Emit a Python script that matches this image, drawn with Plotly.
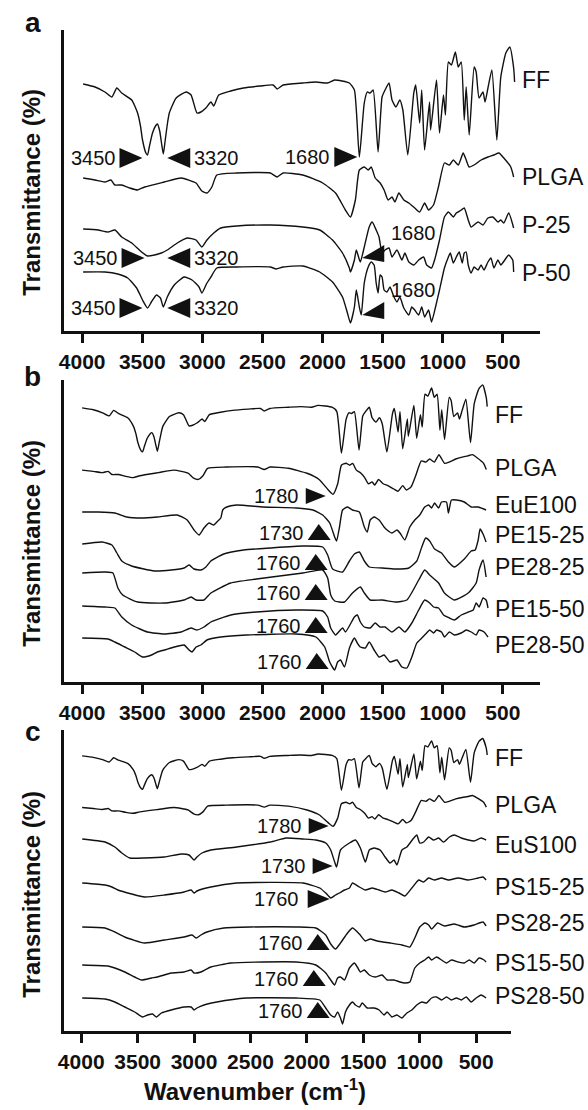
import plotly.graph_objects as go

# ---------------- data ----------------
TICK_WN = [4000, 3500, 3000, 2500, 2000, 1500, 1000, 500]

FF_WN = [3992, 3893, 3811, 3753, 3712, 3671, 3588, 3539, 3515, 3498, 3470, 3456, 3440, 3415, 3390, 3374, 3355, 3340, 3325, 3310,
         3290, 3275, 3218, 3135, 3094, 3045, 3012, 2971, 2929, 2905, 2864, 2765, 2658, 2518, 2411, 2378, 2328, 2164, 2057, 1958,
         1900, 1777, 1735, 1694, 1653, 1628, 1604, 1579, 1538, 1505, 1480, 1447, 1422, 1389, 1357, 1332, 1291, 1241, 1225, 1192,
         1175, 1151, 1110, 1101, 1052, 1027, 994, 978, 953, 928, 895, 871, 846, 821, 805, 780, 739, 722, 698, 665,
         648, 624, 591, 550, 517, 475, 442, 410, 402]
FF_T = [247, 244, 239, 234, 243, 238, 231, 218, 205, 191, 178, 176, 185, 198, 205, 207, 200, 188, 177, 190,
        208, 218, 233, 239, 236, 218, 219, 223, 229, 225, 236, 240, 243, 245, 246, 242, 246, 248, 249, 248,
        251, 248, 241, 174, 228, 239, 238, 241, 179, 234, 241, 248, 231, 224, 231, 221, 176, 238, 246, 208,
        241, 181, 229, 201, 251, 198, 236, 216, 269, 266, 279, 264, 269, 211, 244, 196, 264, 259, 233, 239,
        229, 243, 261, 191, 254, 278, 284, 263, 249]

PLGA_WN = [3992, 3893, 3811, 3761, 3728, 3671, 3605, 3539, 3481, 3317, 3177, 3053, 3004, 2962, 2921, 2880, 2715, 2435, 2378, 2328,
           2164, 1999, 1892, 1810, 1768, 1727, 1694, 1653, 1620, 1595, 1562, 1521, 1488, 1455, 1422, 1398, 1365, 1324, 1282, 1233,
           1192, 1151, 1118, 1077, 1036, 986, 945, 912, 871, 830, 805, 780, 739, 681, 624, 574, 533, 492, 434, 410]
PLGA_T = [153, 151, 149, 151, 146, 146, 143, 141, 144, 149, 153, 148, 140, 138, 144, 156, 158, 158, 154, 158,
          156, 148, 138, 121, 114, 131, 161, 164, 161, 164, 153, 148, 141, 131, 134, 129, 138, 131, 128, 123,
          119, 128, 121, 126, 144, 168, 166, 171, 166, 178, 171, 164, 166, 171, 174, 176, 178, 173, 164, 154]

P25_WN = [3992, 3868, 3786, 3728, 3671, 3588, 3506, 3456, 3399, 3341, 3292, 3209, 3127, 3053, 3004, 2962, 2905, 2847, 2715, 2435,
          2164, 2024, 1917, 1834, 1777, 1768, 1735, 1719, 1686, 1653, 1612, 1587, 1554, 1530, 1505, 1480, 1447, 1422, 1381, 1340,
          1315, 1282, 1241, 1200, 1159, 1134, 1093, 1068, 1027, 986, 953, 912, 887, 846, 821, 788, 764, 706, 665, 624,
          583, 541, 517, 492, 451, 410]
P25_T = [102, 101, 99, 101, 94, 88, 79, 75, 76, 78, 81, 88, 93, 91, 84, 91, 98, 103, 105, 106,
         104, 101, 91, 78, 63, 59, 71, 81, 69, 84, 104, 109, 101, 94, 78, 81, 83, 74, 81, 71,
         78, 69, 66, 71, 74, 66, 63, 71, 91, 114, 119, 114, 118, 121, 123, 111, 104, 109, 106, 113,
         114, 109, 111, 108, 118, 103]

P50_WN = [3992, 3811, 3704, 3621, 3547, 3498, 3456, 3424, 3382, 3349, 3325, 3292, 3234, 3152, 3086, 3028, 3004, 2962, 2929, 2880,
          2715, 2435, 2386, 2328, 2164, 2024, 1917, 1834, 1793, 1768, 1735, 1719, 1694, 1678, 1653, 1620, 1595, 1571, 1554, 1538,
          1521, 1505, 1488, 1464, 1439, 1406, 1381, 1357, 1324, 1282, 1258, 1233, 1200, 1175, 1151, 1118, 1093, 1060, 1027, 986,
          953, 937, 912, 887, 863, 838, 821, 805, 788, 764, 739, 706, 681, 657, 624, 599, 574, 541, 517, 484,
          451, 418, 410]
P50_T = [59, 59, 57, 53, 43, 31, 23, 29, 36, 33, 24, 34, 46, 54, 51, 44, 38, 48, 54, 63,
         64, 64, 62, 64, 65, 59, 49, 34, 18, 8, 24, 41, 24, 16, 48, 64, 69, 66, 48, 38,
         56, 54, 41, 39, 44, 34, 29, 34, 23, 16, 24, 21, 16, 24, 14, 21, 9, 24, 41, 63,
         74, 78, 68, 74, 79, 68, 78, 79, 66, 58, 64, 61, 66, 61, 69, 73, 63, 71, 66, 71,
         76, 71, 59]

EUE_WN = [3991, 3851, 3702, 3596, 3465, 3325, 3149, 3061, 3000, 2956, 2912, 2868, 2825, 2798, 2763, 2746, 2711, 2623, 2386, 2096,
          1947, 1860, 1798, 1754, 1737, 1711, 1684, 1640, 1596, 1535, 1491, 1465, 1439, 1404, 1360, 1316, 1289, 1246, 1202, 1175,
          1132, 1088, 1044, 1000, 956, 921, 895, 868, 833, 807, 763, 746, 719, 675, 605, 544, 482, 412]
EUE_T = [170, 170, 169, 165, 164, 165, 167, 162, 152, 147, 154, 159, 157, 160, 164, 172, 175, 177, 175, 174,
         172, 167, 159, 145, 141, 155, 172, 175, 172, 170, 155, 150, 162, 165, 162, 155, 152, 149, 152, 149,
         142, 155, 162, 167, 175, 177, 174, 179, 174, 180, 180, 169, 182, 182, 180, 175, 175, 172]

PE1525_WN = [3991, 3816, 3728, 3684, 3640, 3553, 3351, 3202, 3088, 3044, 3000, 2939, 2895, 2851, 2737, 2561, 2325, 2035, 1860, 1816,
             1772, 1684, 1623, 1579, 1535, 1491, 1447, 1333, 1219, 1096, 1026, 982, 947, 912, 868, 807, 746, 693, 605, 544,
             509, 482, 465, 439, 412]
PE1525_T = [138, 140, 137, 129, 121, 116, 111, 112, 114, 117, 113, 112, 115, 121, 128, 132, 134, 136, 135, 127,
            113, 110, 121, 128, 130, 121, 115, 114, 113, 114, 121, 135, 144, 141, 133, 129, 120, 115, 123, 131,
            132, 142, 153, 148, 140]

PE2825_WN = [3991, 3789, 3719, 3675, 3632, 3500, 3263, 3088, 3026, 2982, 2912, 2851, 2675, 2447, 2035, 1860, 1816, 1789, 1754, 1667,
             1596, 1526, 1491, 1439, 1333, 1219, 1114, 1009, 956, 912, 833, 781, 693, 570, 500, 474, 439, 412]
PE2825_T = [109, 110, 109, 94, 87, 80, 79, 82, 85, 82, 82, 89, 99, 103, 109, 112, 104, 87, 81, 80,
            89, 95, 89, 82, 82, 80, 82, 102, 112, 107, 99, 89, 82, 89, 99, 112, 122, 105]

PE1550_WN = [3991, 3789, 3702, 3640, 3553, 3412, 3263, 3114, 3026, 2974, 2912, 2851, 2675, 2447, 2096, 1860, 1816, 1789, 1746, 1684,
             1658, 1579, 1553, 1526, 1491, 1439, 1395, 1351, 1307, 1246, 1184, 1132, 1070, 1009, 956, 912, 877, 833, 789, 737,
             693, 632, 570, 526, 500, 474, 439, 412, 395]
PE1550_T = [76, 75, 74, 65, 57, 50, 48, 50, 54, 52, 55, 60, 67, 70, 72, 71, 65, 54, 47, 54,
            50, 65, 67, 60, 55, 54, 59, 55, 55, 50, 55, 50, 59, 72, 82, 79, 75, 74, 67, 64,
            62, 67, 70, 72, 79, 75, 84, 82, 74]

PE2850_WN = [3991, 3763, 3702, 3614, 3526, 3456, 3377, 3325, 3263, 3175, 3088, 3044, 3018, 2982, 2939, 2886, 2763, 2535, 2096, 1921,
             1842, 1798, 1754, 1728, 1702, 1667, 1623, 1579, 1553, 1526, 1482, 1447, 1404, 1360, 1316, 1263, 1202, 1158, 1114, 1070,
             1026, 982, 939, 912, 877, 851, 807, 781, 737, 693, 632, 588, 544, 500, 474, 430, 395]
PE2850_T = [44, 43, 40, 35, 30, 25, 27, 30, 32, 35, 37, 32, 30, 35, 37, 42, 45, 47, 48, 45,
            35, 20, 12, 20, 22, 15, 34, 44, 39, 35, 34, 40, 32, 25, 27, 20, 22, 15, 14, 25,
            39, 44, 49, 52, 49, 52, 50, 45, 50, 47, 49, 52, 50, 47, 52, 50, 45]

EUS_WN = [3991, 3789, 3702, 3640, 3570, 3439, 3263, 3114, 3044, 3000, 2974, 2930, 2851, 2623, 2325, 2184, 2035, 1921, 1833, 1789,
          1754, 1737, 1702, 1623, 1570, 1526, 1482, 1447, 1404, 1351, 1307, 1263, 1228, 1202, 1158, 1114, 1053, 1026, 1000, 965,
          921, 877, 833, 789, 737, 693, 632, 570, 518, 456, 412]
EUS_T = [192, 189, 184, 178, 173, 173, 174, 177, 176, 171, 174, 178, 181, 184, 189, 193, 192, 191, 188, 181,
         169, 164, 181, 188, 191, 183, 169, 181, 183, 181, 174, 168, 171, 166, 181, 184, 193, 196, 188, 189,
         194, 191, 193, 189, 194, 196, 193, 191, 190, 193, 191]

PS1525_WN = [3991, 3789, 3728, 3675, 3553, 3439, 3263, 3088, 3026, 3000, 2974, 2851, 2623, 2035, 1886, 1833, 1789, 1746, 1711, 1667,
             1623, 1596, 1535, 1482, 1421, 1360, 1307, 1246, 1184, 1132, 1070, 1009, 965, 921, 868, 807, 746, 658, 570, 482,
             439, 412]
PS1525_T = [148, 146, 144, 141, 137, 134, 136, 139, 141, 138, 140, 144, 148, 148, 143, 138, 133, 136, 138, 141,
            143, 148, 144, 141, 143, 141, 139, 141, 138, 135, 143, 151, 149, 153, 151, 153, 151, 153, 151, 153,
            154, 151]

PS2825_WN = [3991, 3789, 3702, 3614, 3439, 3263, 3088, 3018, 2982, 2939, 2886, 2737, 2500, 2096, 1921, 1833, 1789, 1746, 1702, 1640,
             1596, 1535, 1482, 1439, 1377, 1263, 1158, 1088, 1044, 1000, 956, 921, 895, 842, 781, 693, 605, 518, 439, 412]
PS2825_T = [104, 103, 99, 94, 88, 91, 94, 96, 93, 96, 99, 103, 104, 104, 103, 96, 87, 82, 88, 98,
            103, 97, 90, 92, 90, 88, 86, 84, 93, 104, 108, 106, 102, 108, 105, 107, 104, 106, 109, 105]

PS1550_WN = [3991, 3763, 3702, 3614, 3526, 3465, 3377, 3325, 3202, 3088, 3026, 3000, 2939, 2851, 2675, 2386, 2096, 1921, 1833, 1789,
             1754, 1728, 1702, 1667, 1623, 1579, 1553, 1526, 1491, 1447, 1395, 1333, 1289, 1228, 1175, 1132, 1088, 1044, 1000, 956,
             921, 895, 851, 807, 763, 719, 658, 605, 561, 518, 474, 430, 412]
PS1550_T = [66, 65, 63, 59, 54, 51, 53, 54, 58, 59, 61, 58, 59, 64, 68, 69, 69, 66, 58, 51,
            46, 53, 54, 51, 63, 68, 64, 59, 61, 56, 54, 56, 51, 51, 49, 48, 49, 63, 68, 71,
            74, 71, 74, 71, 68, 71, 69, 68, 71, 68, 73, 71, 69]

PS2850_WN = [3991, 3789, 3702, 3614, 3526, 3456, 3412, 3368, 3333, 3289, 3202, 3088, 3026, 3000, 2974, 2912, 2798, 2535, 2096, 1886,
             1833, 1789, 1754, 1728, 1702, 1684, 1658, 1623, 1596, 1570, 1535, 1509, 1465, 1404, 1360, 1316, 1289, 1246, 1202, 1158,
             1114, 1070, 1026, 982, 939, 895, 851, 807, 763, 719, 675, 632, 588, 544, 500, 456, 412]
PS2850_T = [33, 32, 29, 24, 19, 14, 16, 17, 14, 18, 21, 24, 24, 21, 23, 26, 29, 33, 33, 31,
            23, 16, 14, 19, 13, 7, 19, 26, 29, 26, 24, 28, 23, 23, 21, 16, 19, 14, 16, 13,
            18, 21, 26, 29, 28, 33, 34, 31, 34, 31, 33, 31, 34, 29, 33, 36, 33]

SPECTRA = {
    "FF": (FF_WN, FF_T), "PLGA": (PLGA_WN, PLGA_T), "P-25": (P25_WN, P25_T), "P-50": (P50_WN, P50_T),
    "EuE100": (EUE_WN, EUE_T), "PE15-25": (PE1525_WN, PE1525_T), "PE28-25": (PE2825_WN, PE2825_T),
    "PE15-50": (PE1550_WN, PE1550_T), "PE28-50": (PE2850_WN, PE2850_T),
    "EuS100": (EUS_WN, EUS_T), "PS15-25": (PS1525_WN, PS1525_T), "PS28-25": (PS2825_WN, PS2825_T),
    "PS15-50": (PS1550_WN, PS1550_T), "PS28-50": (PS2850_WN, PS2850_T),
}
for _k, (_w, _t) in SPECTRA.items():
    assert len(_w) == len(_t), (_k, len(_w), len(_t))

A_SERIES = ["FF", "PLGA", "P-25", "P-50"]
B_SERIES = ["FF", "PLGA", "EuE100", "PE15-25", "PE28-25", "PE15-50", "PE28-50"]
C_SERIES = ["FF", "PLGA", "EuS100", "PS15-25", "PS28-25", "PS15-50", "PS28-50"]

# FF and PLGA are re-plotted in panels b and c with a smaller vertical scale and their own offset
B_SCALE = {"FF": (0.62, 121), "PLGA": (0.62, 117)}
C_SCALE = {"FF": (0.47, 159), "PLGA": (0.48, 150)}

A_LABEL_LEVEL = [251, 154, 106, 58]
B_LABEL_LEVEL = [267, 214, 177, 147, 115, 73, 37]
C_LABEL_LEVEL = [273, 226, 186, 144, 108, 68, 35]

A_ARW_TEXT = ["3450", "3320", "1680", "3450", "3320", "1680", "3450", "3320", "1680"]
A_ARW_WN = [3498, 3292, 1711, 3481, 3292, 1670, 3498, 3292, 1670]
A_ARW_LEVEL = [173, 173, 174, 73, 73, 73, 23, 23, 16]
A_ARW_KIND = ["R", "L", "R", "R", "L", "T", "R", "L", "T"]

B_ARW_TEXT = ["1780", "1730", "1760", "1760", "1760", "1760"]
B_ARW_WN = [1833, 1789, 1816, 1816, 1816, 1807]
B_ARW_LEVEL = [186, 142, 112, 82, 49, 13]
B_ARW_KIND = ["r", "U", "U", "U", "U", "U"]

C_ARW_TEXT = ["1780", "1730", "1760", "1760", "1760", "1760"]
C_ARW_WN = [1807, 1772, 1798, 1798, 1833, 1798]
C_ARW_LEVEL = [205, 165, 132, 81, 45, 13]
C_ARW_KIND = ["r", "r", "r2", "U", "U", "U"]

# ---------------- styling ----------------
W, H = 588, 1110
FONT = "Liberation Sans, Arial, Helvetica, sans-serif"
INK = "#111111"


def px_x(p):
    return p / W


def px_y(p):
    return 1 - p / H


KIND = {
    "R": dict(path="M-23,10 L-23,-10 L0,0 Z", anchor="right", dx=-25, dy=0),
    "L": dict(path="M23,10 L23,-10 L0,0 Z", anchor="left", dx=25, dy=0),
    "T": dict(path="M0,0 L22,13 L22,-4 Z", anchor="left", dx=27, dy=25),
    "r": dict(path="M-20,8 L-20,-8 L0,0 Z", anchor="right", dx=-25, dy=0),
    "r2": dict(path="M-22,9 L-22,-9 L0,0 Z", anchor="right", dx=-29, dy=0),
    "U": dict(path="M0,0 L-23,0 L-12,16 Z", anchor="right", dx=-25, dy=7),
}

fig = go.Figure()
shapes = []
annotations = []

panels = [
    # series, scale map, label levels, arrows, data x-axis, y-axis, label xshift
    (A_SERIES, {}, A_LABEL_LEVEL, (A_ARW_TEXT, A_ARW_WN, A_ARW_LEVEL, A_ARW_KIND), "x", "y", 5),
    (B_SERIES, B_SCALE, B_LABEL_LEVEL, (B_ARW_TEXT, B_ARW_WN, B_ARW_LEVEL, B_ARW_KIND), "x4", "y2", 6),
    (C_SERIES, C_SCALE, C_LABEL_LEVEL, (C_ARW_TEXT, C_ARW_WN, C_ARW_LEVEL, C_ARW_KIND), "x3", "y3", 6),
]

for series, scale, levels, arrows, xa, ya, lshift in panels:
    for name, lev in zip(series, levels):
        wn, t = SPECTRA[name]
        s, off = scale.get(name, (1.0, 0.0))
        fig.add_trace(go.Scatter(
            x=wn, y=[off + s * v for v in t], mode="lines",
            line=dict(color=INK, width=1.4, shape="spline", smoothing=0.5),
            xaxis=xa, yaxis=ya, showlegend=False, hoverinfo="skip", name=name))
        annotations.append(dict(x=400, y=lev, xref=xa, yref=ya, text=name, showarrow=False,
                                xanchor="left", yanchor="middle", xshift=lshift,
                                font=dict(family=FONT, size=23, color=INK)))
    for text, wn, lev, kind in zip(*arrows):
        st = KIND[kind]
        shapes.append(dict(type="path", xref=xa, yref=ya, xsizemode="pixel", ysizemode="pixel",
                           xanchor=wn, yanchor=lev, path=st["path"], fillcolor=INK,
                           line=dict(width=0), layer="above"))
        annotations.append(dict(x=wn, y=lev, xref=xa, yref=ya, text=text, showarrow=False,
                                xanchor=st["anchor"], yanchor="middle", xshift=st["dx"], yshift=st["dy"],
                                font=dict(family=FONT, size=20, color=INK)))

# keep the visible axis of panel b alive
fig.add_trace(go.Scatter(x=[None], y=[None], xaxis="x2", yaxis="y2", showlegend=False, hoverinfo="skip"))

xa_common = dict(showgrid=False, zeroline=False, showline=True, linewidth=2.5, linecolor=INK,
                 ticks="outside", ticklen=9, tickwidth=2.5, tickcolor=INK, tickvals=TICK_WN,
                 tickfont=dict(family=FONT, size=21, color=INK, weight="bold"), ticklabelstandoff=1)
ya_common = dict(showgrid=False, zeroline=False, showline=True, linewidth=2.5, linecolor=INK,
                 ticks="", showticklabels=False)

fig.update_layout(
    width=W, height=H, margin=dict(l=0, r=0, t=0, b=0),
    paper_bgcolor="white", plot_bgcolor="white",
    xaxis=dict(domain=[px_x(59), px_x(539)], range=[4148, 195], anchor="y", **xa_common),
    yaxis=dict(domain=[px_y(331), px_y(30)], range=[0, 301], anchor="x", **ya_common),
    xaxis2=dict(domain=[px_x(59), px_x(539)], range=[4148, 195], anchor="y2", **xa_common),
    yaxis2=dict(domain=[px_y(682), px_y(380)], range=[0, 302], anchor="x2", **ya_common),
    xaxis4=dict(domain=[px_x(59), px_x(510)], range=[4149, 193], anchor="y2", showgrid=False,
                zeroline=False, showline=False, ticks="", showticklabels=False),
    xaxis3=dict(domain=[px_x(59), px_x(510)], range=[4149, 193], anchor="y3", **xa_common),
    yaxis3=dict(domain=[px_y(1031), px_y(730)], range=[0, 301], anchor="x3", **ya_common),
    showlegend=False,
)

# panel letters, axis titles
for letter, yc in [("a", 22), ("b", 376), ("c", 731)]:
    annotations.append(dict(x=px_x(27), y=px_y(yc), xref="paper", yref="paper", text=letter,
                            showarrow=False, xanchor="center", yanchor="middle",
                            font=dict(family=FONT, size=28, color=INK, weight="bold")))
for yc in [192, 543, 894]:
    annotations.append(dict(x=px_x(25), y=px_y(yc), xref="paper", yref="paper",
                            text="Transmittance (%)", textangle=-90, showarrow=False,
                            xanchor="center", yanchor="middle",
                            font=dict(family=FONT, size=24, color=INK, weight="bold")))
annotations.append(dict(x=px_x(252), y=px_y(1090), xref="paper", yref="paper",
                        text="Wavenumber (cm<sup>-1</sup>)", showarrow=False,
                        xanchor="center", yanchor="middle",
                        font=dict(family=FONT, size=24, color=INK, weight="bold")))

fig.update_layout(shapes=shapes, annotations=annotations)
fig.write_html("out.html")
